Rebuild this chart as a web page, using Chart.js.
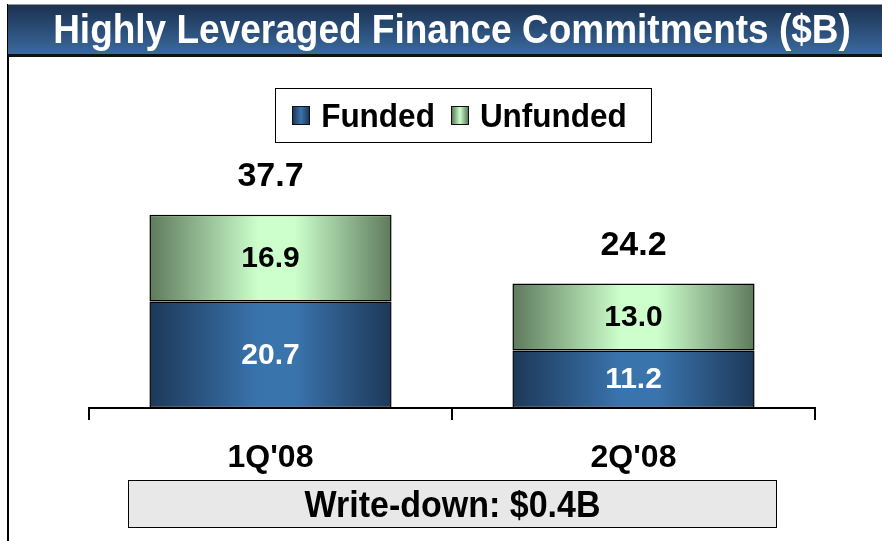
<!DOCTYPE html>
<html>
<head>
<meta charset="utf-8">
<script src="https://cdn.jsdelivr.net/npm/chart.js@4"></script>
<style>
  body { margin:0; background:#fff; font-family:"Liberation Sans", Arial, sans-serif; }
  #page { position:relative; width:882px; height:541px; overflow:hidden; }
  #frame { position:absolute; left:7px; top:4px; width:2px; height:537px; background:#000; }
  #title { position:absolute; left:8px; top:4px; width:874px; height:49px;
           background:linear-gradient(#1b3150, #3a6a9f); border-top:1px solid #999; border-bottom:3px solid #111;
           color:#fff; font-weight:bold; font-size:37px; line-height:49px; text-align:center; }
  #title span { display:inline-block; transform:translateX(7px) scaleY(1.1); }
  #legend { position:absolute; left:275px; top:88px; width:375px; height:53px; border:1.5px solid #000;
            display:flex; align-items:center; justify-content:center; font-weight:bold; font-size:31.5px; }
  #legend span { display:inline-block; transform:scaleY(1.08); }
  .item { display:flex; align-items:center; margin:0 12px 0 4px; }
  .sw { width:16px; height:17px; border:1.5px solid #111; margin-right:11px; }
  #wd { position:absolute; left:128px; top:480px; width:647px; height:46px; background:#e8e8e8; border:1.5px solid #000;
        font-weight:bold; font-size:34px; line-height:46px; text-align:center; }
  #wd span { display:inline-block; transform:scaleY(1.08); }
  canvas { position:absolute; left:0; top:0; }
</style>
</head>
<body>
<div id="page">
  <canvas id="c" width="882" height="541"></canvas>
  <div id="frame"></div>
  <div id="title"><span>Highly Leveraged Finance Commitments ($B)</span></div>
  <div id="legend"></div>
  <div id="wd"><span>Write-down: $0.4B</span></div>
</div>
<script>
// data
const quarters = ["1Q'08", "2Q'08"];
const funded = [20.7, 11.2];
const unfunded = [16.9, 13.0];
const totals = [37.7, 24.2]; // as printed on the slide
const seriesNames = ["Funded", "Unfunded"];

// edge / centre colours for the bar gradients
const shades = [["#1d3858", "#3a74ad"], ["#5e7a5c", "#ccffcc"]];

function barGradient(ctx, si) {
  const chart = ctx.chart;
  if (!chart.chartArea || ctx.dataIndex === undefined) return shades[si][1];
  const x = chart.scales.x;
  const cx = x.getPixelForValue(ctx.dataIndex);
  const half = x.width / quarters.length * 0.667 / 2;
  const g = chart.ctx.createLinearGradient(cx - half, 0, cx + half, 0);
  g.addColorStop(0, shades[si][0]);
  g.addColorStop(0.45, shades[si][1]);
  g.addColorStop(0.6, shades[si][1]);
  g.addColorStop(1, shades[si][0]);
  return g;
}

// legend
const leg = document.getElementById('legend');
seriesNames.forEach(function (n, i) {
  const d = document.createElement('div');
  d.className = 'item';
  d.innerHTML = '<div class="sw" style="background:linear-gradient(90deg,' + shades[i][0] + ',' + shades[i][1] + ',' + shades[i][0] + ')"></div><span>' + n + '</span>';
  leg.appendChild(d);
});

const labelPlugin = {
  id: 'labels',
  afterDatasetsDraw(chart) {
    const c = chart.ctx;
    c.save();
    c.textAlign = 'center';
    c.textBaseline = 'middle';
    c.font = 'bold 30px "Liberation Sans", Arial';
    chart.data.datasets.forEach(function (ds, si) {
      chart.getDatasetMeta(si).data.forEach(function (bar, i) {
        c.fillStyle = si === 0 ? '#fff' : '#000';
        c.fillText(ds.data[i].toFixed(1), bar.x, (bar.y + bar.base) / 2 + 1);
      });
    });
    // totals
    c.font = 'bold 34px "Liberation Sans", Arial';
    c.fillStyle = '#000';
    const top = chart.getDatasetMeta(1).data;
    totals.forEach(function (t, i) {
      c.fillText(t.toFixed(1), top[i].x, top[i].y - 38);
    });
    c.restore();
  }
};

new Chart(document.getElementById('c'), {
  type: 'bar',
  data: {
    labels: quarters,
    datasets: [
      { label: seriesNames[0], data: funded, backgroundColor: function (ctx) { return barGradient(ctx, 0); } },
      { label: seriesNames[1], data: unfunded, backgroundColor: function (ctx) { return barGradient(ctx, 1); } }
    ]
  },
  options: {
    responsive: false,
    animation: false,
    layout: { padding: { left: 89, right: 67, top: 151, bottom: 0 } },
    datasets: { bar: { categoryPercentage: 1, barPercentage: 0.667, borderColor: '#000', borderWidth: 1.5, borderSkipped: false } },
    plugins: { legend: { display: false }, tooltip: { enabled: false } },
    scales: {
      x: {
        stacked: true,
        grid: { drawOnChartArea: false, drawTicks: true, tickLength: 12, color: '#000', lineWidth: 2 },
        border: { display: true, color: '#000', width: 2 },
        ticks: { color: '#000', padding: 19, font: { family: '"Liberation Sans", Arial', size: 32, weight: 'bold' } },
        afterFit: function (s) { s.height = 133; }
      },
      y: { stacked: true, display: false, min: 0, max: 50 }
    }
  },
  plugins: [labelPlugin]
});
</script>
</body>
</html>
